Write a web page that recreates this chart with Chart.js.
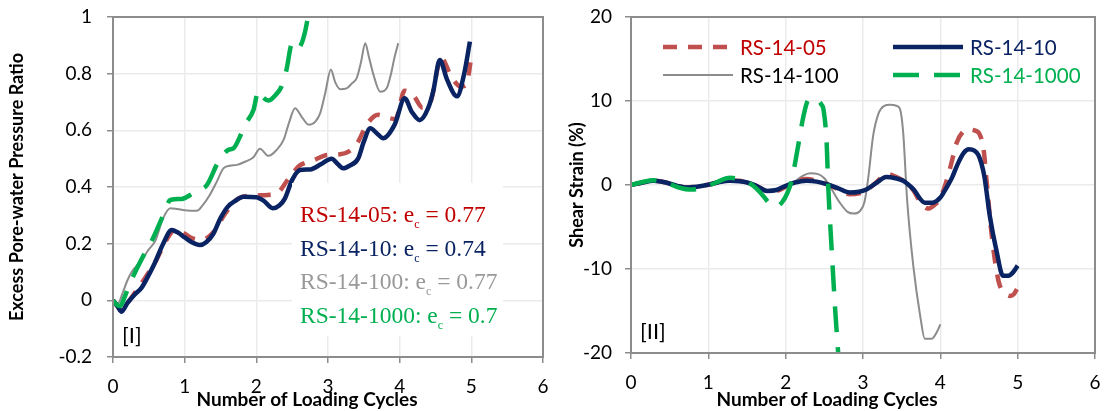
<!DOCTYPE html>
<html>
<head>
<meta charset="utf-8">
<script src="https://cdn.jsdelivr.net/npm/chart.js@4.4.1/dist/chart.umd.min.js"></script>
<style>
body{margin:0;background:#fff;}
#wrap{position:relative;width:1104px;height:411px;}
.box{position:absolute;top:0;width:552px;height:411px;}
</style>
</head>
<body>
<div id="wrap">
  <div class="box" style="left:0"><canvas id="chartRu"></canvas></div>
  <div class="box" style="left:552px"><canvas id="chartStrain"></canvas></div>
</div>
<script>
// ---- data ----
var specimens = ['RS-14-05', 'RS-14-10', 'RS-14-100', 'RS-14-1000'];
var voidRatios = ['0.77', '0.74', '0.77', '0.7'];

// [I] excess pore-water pressure ratio vs cycles
var ru05X = [0, 0.06, 0.12, 0.2, 0.3, 0.45, 0.6, 0.75, 0.87, 1.0, 1.1, 1.25, 1.4, 1.55, 1.7, 1.8, 2.0, 2.16, 2.3, 2.45, 2.6, 2.68, 2.8, 2.99, 3.15, 3.3, 3.42, 3.54, 3.7, 3.82, 3.94, 4.07, 4.2, 4.32, 4.43, 4.58, 4.72, 4.85, 4.93, 5.0];
var ru05Y = [0, -0.02, -0.035, -0.01, 0.025, 0.08, 0.14, 0.215, 0.25, 0.235, 0.22, 0.215, 0.24, 0.3, 0.35, 0.365, 0.37, 0.372, 0.38, 0.43, 0.475, 0.485, 0.495, 0.513, 0.515, 0.527, 0.56, 0.62, 0.655, 0.645, 0.64, 0.74, 0.72, 0.68, 0.7, 0.855, 0.79, 0.755, 0.76, 0.86];

var ru10X = [0, 0.06, 0.12, 0.2, 0.3, 0.4, 0.5, 0.58, 0.7, 0.82, 0.9, 1.0, 1.1, 1.21, 1.3, 1.4, 1.5, 1.6, 1.7, 1.82, 2.0, 2.1, 2.23, 2.32, 2.4, 2.5, 2.61, 2.75, 2.9, 3.05, 3.14, 3.21, 3.3, 3.42, 3.5, 3.59, 3.68, 3.77, 3.93, 4.07, 4.17, 4.28, 4.4, 4.47, 4.56, 4.66, 4.8, 4.9, 4.98];
var ru10Y = [0, -0.02, -0.04, -0.01, 0.02, 0.045, 0.09, 0.13, 0.2, 0.248, 0.24, 0.222, 0.205, 0.195, 0.205, 0.235, 0.29, 0.33, 0.35, 0.366, 0.364, 0.352, 0.325, 0.335, 0.36, 0.425, 0.46, 0.462, 0.48, 0.5, 0.48, 0.466, 0.475, 0.5, 0.56, 0.607, 0.59, 0.572, 0.62, 0.713, 0.665, 0.636, 0.68, 0.74, 0.848, 0.78, 0.72, 0.8, 0.913];

var ru100X = [0, 0.07, 0.14, 0.2, 0.26, 0.34, 0.42, 0.5, 0.59, 0.7, 0.8, 0.9, 1.0, 1.17, 1.25, 1.35, 1.45, 1.54, 1.63, 1.73, 1.85, 1.96, 2.05, 2.17, 2.28, 2.38, 2.46, 2.54, 2.64, 2.73, 2.82, 2.89, 2.96, 3.04, 3.1, 3.17, 3.26, 3.33, 3.4, 3.46, 3.52, 3.57, 3.63, 3.73, 3.82, 3.88, 3.93, 3.98];
var ru100Y = [0, -0.01, 0.03, 0.07, 0.1, 0.125, 0.15, 0.18, 0.21, 0.29, 0.325, 0.322, 0.318, 0.316, 0.335, 0.372, 0.42, 0.466, 0.475, 0.478, 0.49, 0.505, 0.535, 0.51, 0.53, 0.566, 0.63, 0.678, 0.645, 0.62, 0.63, 0.66, 0.73, 0.815, 0.77, 0.745, 0.748, 0.765, 0.784, 0.84, 0.907, 0.86, 0.8, 0.736, 0.749, 0.8, 0.86, 0.907];

var ru1000X = [0, 0.05, 0.1, 0.16, 0.22, 0.3, 0.42, 0.56, 0.7, 0.8, 0.96, 1.12, 1.22, 1.31, 1.47, 1.61, 1.68, 1.77, 1.84, 1.96, 2.03, 2.1, 2.17, 2.27, 2.35, 2.42, 2.5, 2.58, 2.62, 2.68, 2.74];
var ru1000Y = [0, -0.015, -0.02, 0.01, 0.05, 0.095, 0.155, 0.22, 0.3, 0.354, 0.358, 0.378, 0.39, 0.407, 0.489, 0.531, 0.536, 0.577, 0.619, 0.672, 0.74, 0.715, 0.705, 0.725, 0.754, 0.813, 0.907, 0.888, 0.9, 0.948, 1.03];

// [II] shear strain (%) vs cycles
var gam05X = [0, 0.15, 0.29, 0.45, 0.6, 0.72, 0.85, 0.98, 1.12, 1.28, 1.4, 1.5, 1.62, 1.76, 1.88, 2.0, 2.12, 2.27, 2.4, 2.53, 2.68, 2.83, 2.95, 3.05, 3.18, 3.31, 3.42, 3.52, 3.65, 3.75, 3.84, 3.92, 4.0, 4.07, 4.14, 4.21, 4.29, 4.36, 4.44, 4.51, 4.56, 4.6, 4.66, 4.73, 4.77, 4.83, 4.9, 4.95, 4.99];
var gam05Y = [0, 0.3, 0.5, 0.3, -0.1, -0.3, -0.2, 0, 0.3, 0.55, 0.5, 0.3, -0.1, -0.7, -0.7, -0.2, 0.4, 0.7, 0.5, 0.1, -0.5, -1.1, -1.0, -0.6, 0.4, 1.3, 1.0, 0.5, -0.6, -2.2, -2.8, -2.4, -1.6, 0.2, 2.5, 5.0, 6.3, 6.6, 6.5, 6.0, 4.2, 0.3, -5.6, -10.4, -12.0, -12.8, -13.2, -13.0, -12.4];

var gam10X = [0, 0.15, 0.29, 0.45, 0.6, 0.72, 0.85, 0.98, 1.12, 1.28, 1.4, 1.5, 1.62, 1.76, 1.88, 2.0, 2.12, 2.27, 2.4, 2.53, 2.68, 2.83, 2.95, 3.05, 3.18, 3.3, 3.42, 3.52, 3.65, 3.8, 3.9, 4.0, 4.08, 4.15, 4.22, 4.3, 4.37, 4.44, 4.49, 4.53, 4.57, 4.64, 4.73, 4.81, 4.88, 4.94, 5.0];
var gam10Y = [0, 0.3, 0.5, 0.3, -0.1, -0.3, -0.2, 0, 0.3, 0.5, 0.45, 0.3, -0.1, -0.7, -0.6, -0.1, 0.3, 0.5, 0.4, 0.1, -0.4, -0.9, -0.8, -0.5, 0.3, 0.95, 0.8, 0.5, -0.5, -2.1, -2.1, -1.5, -0.3, 0.85, 2.4, 3.8, 4.25, 4.1, 3.6, 2.6, 1.0, -3.7, -8.0, -10.8, -10.8, -10.4, -9.6];

var gam100X = [0, 0.15, 0.29, 0.45, 0.6, 0.72, 0.85, 0.98, 1.12, 1.28, 1.4, 1.5, 1.62, 1.8, 1.92, 2.0, 2.12, 2.22, 2.32, 2.42, 2.5, 2.6, 2.7, 2.8, 2.88, 2.96, 3.02, 3.07, 3.13, 3.2, 3.27, 3.35, 3.44, 3.48, 3.52, 3.57, 3.65, 3.74, 3.8, 3.89, 3.95, 4.0];
var gam100Y = [0, 0.3, 0.5, 0.3, -0.1, -0.25, -0.2, 0, 0.3, 0.55, 0.5, 0.2, -0.2, -0.8, -0.6, -0.3, 0.4, 1.1, 1.4, 1.3, 0.8, -0.6, -2.1, -3.2, -3.4, -3.1, -2.0, 1.0, 5.8, 8.5, 9.4, 9.55, 9.4, 9.0, 6.2, -1.7, -9.6, -15.6, -18.3, -18.3, -17.6, -16.6];

var gam1000X = [0, 0.15, 0.29, 0.45, 0.62, 0.78, 0.95, 1.1, 1.28, 1.37, 1.48, 1.58, 1.71, 1.78, 1.86, 1.95, 2.02, 2.08, 2.16, 2.23, 2.29, 2.35, 2.4, 2.46, 2.49, 2.53, 2.55, 2.59, 2.64, 2.68, 2.72];
var gam1000Y = [0, 0.35, 0.57, 0.3, -0.3, -0.55, -0.3, 0.3, 0.85, 0.77, 0.4, -0.1, -1.3, -2.1, -2.6, -2.1, -1.0, 0.65, 4.6, 8.2, 10.1, 10.3, 10.2, 9.6, 8.95, 5.0, -0.1, -6.9, -14.8, -20.1, -25];

var cycleTicks = [0, 1, 2, 3, 4, 5, 6];

// ---- styling ----
var calibri = 'Lato, "Open Sans", sans-serif';
var colRed = '#C0504D', colNavy = '#0A2463', colGray = '#8C8C8C', colGreen = '#00B050';
var axisGray = '#8C8C8C', gridGray = '#EBEBEB';

function pts(xs, ys) {
    return xs.map(function (x, i) { return {x: x, y: ys[i]}; });
}

function series(label, xs, ys, color, width, dash) {
    return {
        label: label,
        data: pts(xs, ys),
        borderColor: color,
        backgroundColor: color,
        borderWidth: width,
        borderDash: dash,
        borderCapStyle: 'butt',
        pointRadius: 0,
        cubicInterpolationMode: 'monotone',
        fill: false
    };
}

function xAxis(h, pad) {
    return {
        type: 'linear', min: 0, max: 6,
        afterBuildTicks: function (s) { s.ticks = cycleTicks.map(function (v) { return {value: v}; }); },
        ticks: {color: '#000', font: {family: calibri, size: 19}, padding: pad},
        grid: {color: gridGray, lineWidth: 1.5, tickLength: 6, tickColor: axisGray, tickWidth: 1.5},
        border: {color: axisGray, width: 2},
        afterFit: function (s) { s.height = h; s.paddingLeft = 0; s.paddingRight = 0; }
    };
}

function yAxis(min, max, step, w, title, pad, titlePad, fmt) {
    return {
        type: 'linear', min: min, max: max,
        ticks: {stepSize: step, color: '#000', font: {family: calibri, size: 19}, padding: pad, callback: fmt},
        grid: {color: gridGray, lineWidth: 1.5, tickLength: 6, tickColor: axisGray, tickWidth: 1.5},
        border: {color: axisGray, width: 2},
        title: {display: true, text: title, color: '#000', font: {family: calibri, size: 18, weight: 'bold'}, padding: {top: titlePad, bottom: 0}},
        afterFit: function (s) { s.width = w; s.paddingTop = 0; s.paddingBottom = 0; }
    };
}

// frame + x title + panel tag
function framePlugin(tag, titleX) {
    return {
        id: 'frame' + tag,
        afterDraw: function (chart) {
            var a = chart.chartArea, ctx = chart.ctx;
            ctx.save();
            ctx.strokeStyle = axisGray;
            ctx.lineWidth = 2;
            ctx.strokeRect(a.left, a.top, a.right - a.left, a.bottom - a.top);
            ctx.fillStyle = '#000';
            ctx.font = 'bold 19px ' + calibri;
            ctx.textAlign = 'center';
            ctx.textBaseline = 'middle';
            ctx.fillText('Number of Loading Cycles', titleX, 400);
            ctx.font = '22px ' + calibri;
            ctx.textAlign = 'left';
            ctx.fillText(tag, a.left + 9, a.bottom - 21);
            ctx.restore();
        }
    };
}

// void-ratio notes in panel [I]
var notesPlugin = {
    id: 'notes',
    afterDatasetsDraw: function (chart) {
        var ctx = chart.ctx;
        var textCols = ['#C00000', '#0A2463', '#999999', '#00B050'];
        ctx.save();
        ctx.fillStyle = '#fff';
        ctx.fillRect(292, 183, 211, 153);
        ctx.textBaseline = 'alphabetic';
        specimens.forEach(function (name, i) {
            var x = 300, y = 222 + i * 33.7;
            ctx.fillStyle = textCols[i];
            ctx.font = '23.5px "Liberation Serif", serif';
            var s = name + ': e';
            ctx.fillText(s, x, y);
            x += ctx.measureText(s).width;
            ctx.font = '12px "Liberation Serif", serif';
            ctx.fillText('c', x, y + 6);
            x += ctx.measureText('c').width;
            ctx.font = '23.5px "Liberation Serif", serif';
            ctx.fillText(' = ' + voidRatios[i], x, y);
        });
        ctx.restore();
    }
};

// two-column legend in panel [II]
var legendPlugin = {
    id: 'legend2',
    afterDraw: function (chart) {
        var ctx = chart.ctx;
        var order = [2, 1, 3, 0]; // dataset index for RS-14-05, RS-14-10, RS-14-100, RS-14-1000
        var textCols = ['#C00000', '#0A2463', '#000000', '#00B050'];
        ctx.save();
        ctx.font = '20.5px ' + calibri;
        ctx.textBaseline = 'middle';
        specimens.forEach(function (name, i) {
            var ds = chart.data.datasets[order[i]];
            var col = i % 2, row = Math.floor(i / 2);
            var x0 = col === 0 ? 111 : 341;
            var y = row === 0 ? 47 : 75;
            ctx.strokeStyle = ds.borderColor;
            ctx.lineWidth = ds.borderWidth;
            ctx.setLineDash(ds.borderDash || []);
            ctx.beginPath();
            ctx.moveTo(x0, y);
            ctx.lineTo(x0 + 70, y);
            ctx.stroke();
            ctx.setLineDash([]);
            ctx.fillStyle = textCols[i];
            ctx.fillText(name, x0 + 77, y + 1);
        });
        ctx.restore();
    }
};

var fmtRu = function (v) { return String(Math.round(v * 10) / 10); };
var fmtGam = function (v) { return String(v); };

new Chart(document.getElementById('chartRu'), {
    type: 'line',
    data: {
        datasets: [
            series(specimens[3], ru1000X, ru1000Y, colGreen, 4.5, [26, 15]),
            series(specimens[1], ru10X, ru10Y, colNavy, 4.5, []),
            series(specimens[0], ru05X, ru05Y, colRed, 4.5, [13, 11]),
            series(specimens[2], ru100X, ru100Y, colGray, 2, [])
        ]
    },
    options: {
        responsive: true, maintainAspectRatio: false, animation: false,
        layout: {padding: {top: 17, right: 9, left: 0, bottom: 0}},
        plugins: {legend: {display: false}, tooltip: {enabled: false}},
        scales: {
            x: xAxis(54, 12),
            y: yAxis(-0.2, 1, 0.2, 113, 'Excess Pore-water Pressure Ratio', 15, 6, fmtRu)
        }
    },
    plugins: [notesPlugin, framePlugin('[I]', 307)]
});

new Chart(document.getElementById('chartStrain'), {
    type: 'line',
    data: {
        datasets: [
            series(specimens[3], gam1000X, gam1000Y, colGreen, 4.5, [26, 15]),
            series(specimens[1], gam10X, gam10Y, colNavy, 4.5, []),
            series(specimens[0], gam05X, gam05Y, colRed, 4.5, [14, 11]),
            series(specimens[2], gam100X, gam100Y, colGray, 2, [])
        ]
    },
    options: {
        responsive: true, maintainAspectRatio: false, animation: false,
        layout: {padding: {top: 17, right: 9, left: 0, bottom: 0}},
        plugins: {legend: {display: false}, tooltip: {enabled: false}},
        scales: {
            x: xAxis(58, 12),
            y: yAxis(-20, 20, 10, 79, 'Shear Strain (%)', 13, 14, fmtGam)
        }
    },
    plugins: [legendPlugin, framePlugin('[II]', 275)]
});
</script>
</body>
</html>
